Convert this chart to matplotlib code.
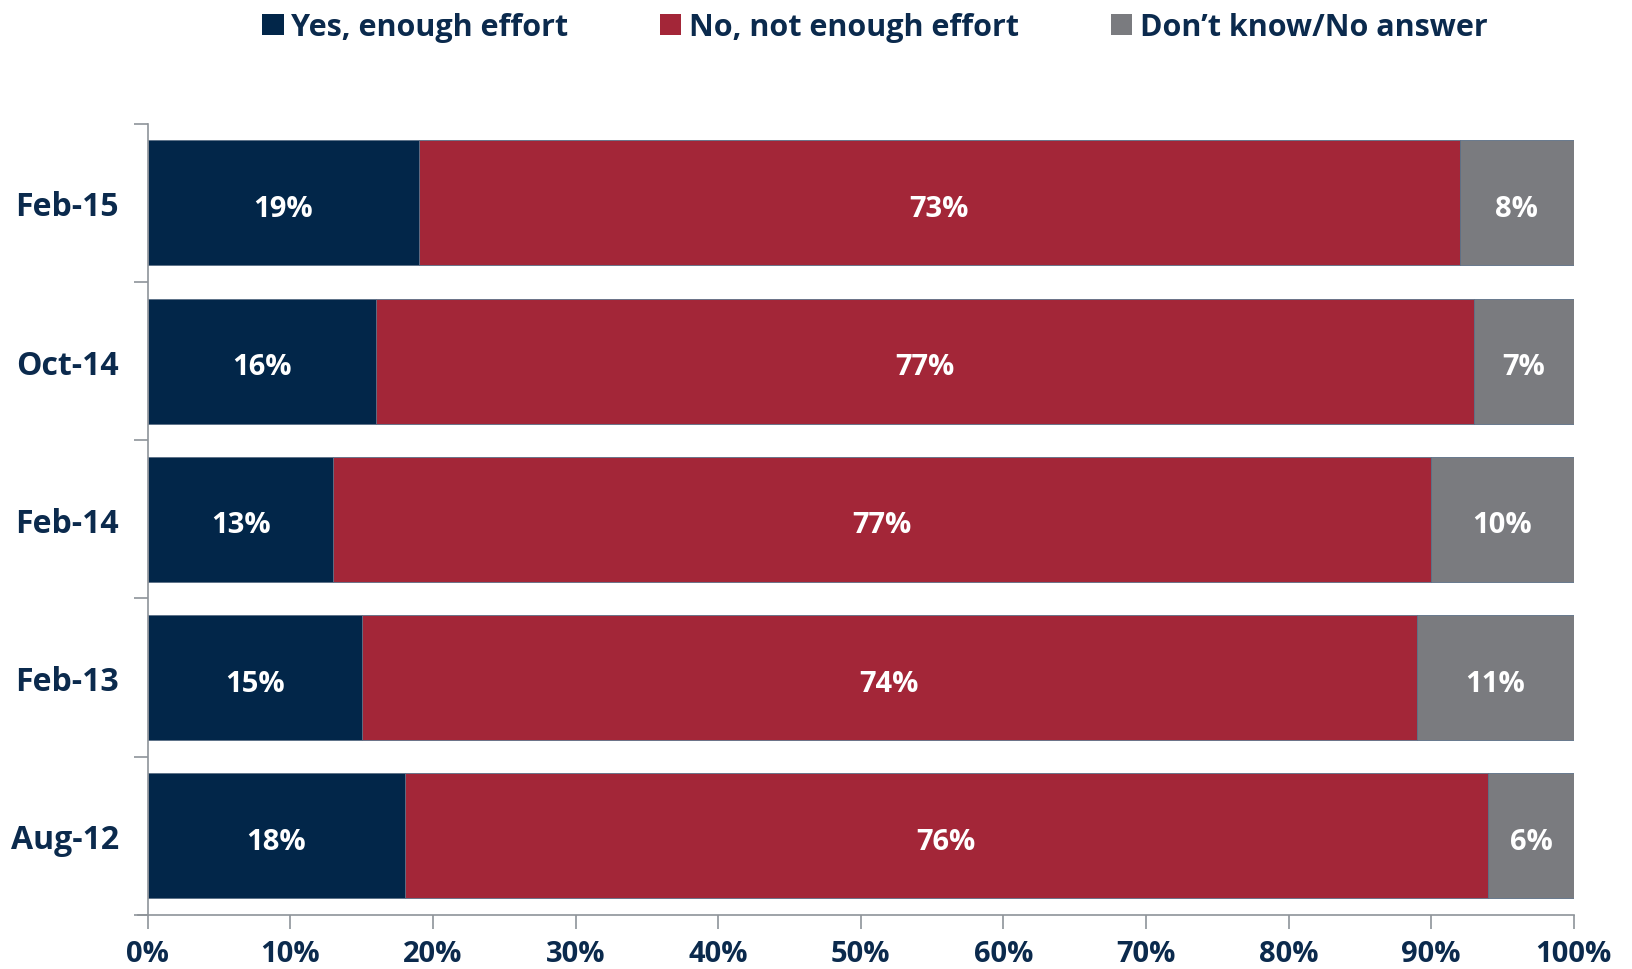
import matplotlib
matplotlib.use("Agg")
import matplotlib.pyplot as plt
from matplotlib.patches import Patch
from matplotlib.ticker import MultipleLocator, PercentFormatter

# survey waves, top to bottom as shown
periods = ["Feb-15", "Oct-14", "Feb-14", "Feb-13", "Aug-12"]
yes_enough = [19, 16, 13, 15, 18]
not_enough = [73, 77, 77, 74, 76]
dont_know = [8, 7, 10, 11, 6]
series_names = ["Yes, enough effort", "No, not enough effort", "Don\u2019t know/No answer"]

NAVY = "#022649"
RED = "#A32638"
GREY = "#7A7B7F"
TEXT = "#0B2A4D"

plt.rcParams["font.family"] = ["Open Sans", "DejaVu Sans"]
plt.rcParams["font.weight"] = "bold"

fig = plt.figure(figsize=(16.32, 9.7), dpi=100)
ax = fig.add_axes([0.0906, 0.0557, 0.8737, 0.8157])

ypos = list(range(len(periods)))
series = [yes_enough, not_enough, dont_know]
colors = [NAVY, RED, GREY]
left = [0] * len(periods)
for vals, col in zip(series, colors):
    bars = ax.barh(ypos, vals, left=left, height=0.79, color=col,
                   edgecolor="#5a6f86", linewidth=0.6)
    for b, v in zip(bars, vals):
        # nudge a little down so the numbers sit like the original
        ax.text(b.get_x() + b.get_width() / 2, b.get_y() + b.get_height() / 2 + 0.035,
                f"{v}%", ha="center", va="center", color="white",
                fontsize=21, fontweight="bold")
    left = [l + v for l, v in zip(left, vals)]

ax.set_xlim(0, 100)
ax.set_ylim(len(periods) - 0.5, -0.5)
ax.xaxis.set_major_locator(MultipleLocator(10))
ax.xaxis.set_major_formatter(PercentFormatter(decimals=0))
ax.set_yticks(ypos)
ax.set_yticklabels(periods)
ax.set_yticks([i - 0.5 for i in range(len(periods) + 1)], minor=True)

for s in ["top", "right"]:
    ax.spines[s].set_visible(False)
for s in ["left", "bottom"]:
    ax.spines[s].set_color("#8E9399")
    ax.spines[s].set_linewidth(1.2)
ax.spines["bottom"].set_bounds(-0.7, 100)

ax.tick_params(axis="y", which="major", length=0, pad=21, labelsize=23, labelcolor=TEXT)
ax.tick_params(axis="y", which="minor", length=10, width=1.2, color="#8E9399")
ax.tick_params(axis="x", length=10, width=1.2, color="#8E9399", pad=7,
               labelsize=21, labelcolor=TEXT)
for lab in ax.get_xticklabels() + ax.get_yticklabels():
    lab.set_fontweight("bold")

handles = [Patch(facecolor=c, edgecolor="none") for c in colors]
leg = fig.legend(handles, series_names, loc="upper center", bbox_to_anchor=(0.536, 1.015),
                 ncol=3, frameon=False, fontsize=22, handlelength=0.7, handleheight=0.7,
                 handletextpad=0.25, columnspacing=3.0)
for t in leg.get_texts():
    t.set_color(TEXT)
    t.set_fontweight("bold")

fig.savefig("out.png", dpi=100)
